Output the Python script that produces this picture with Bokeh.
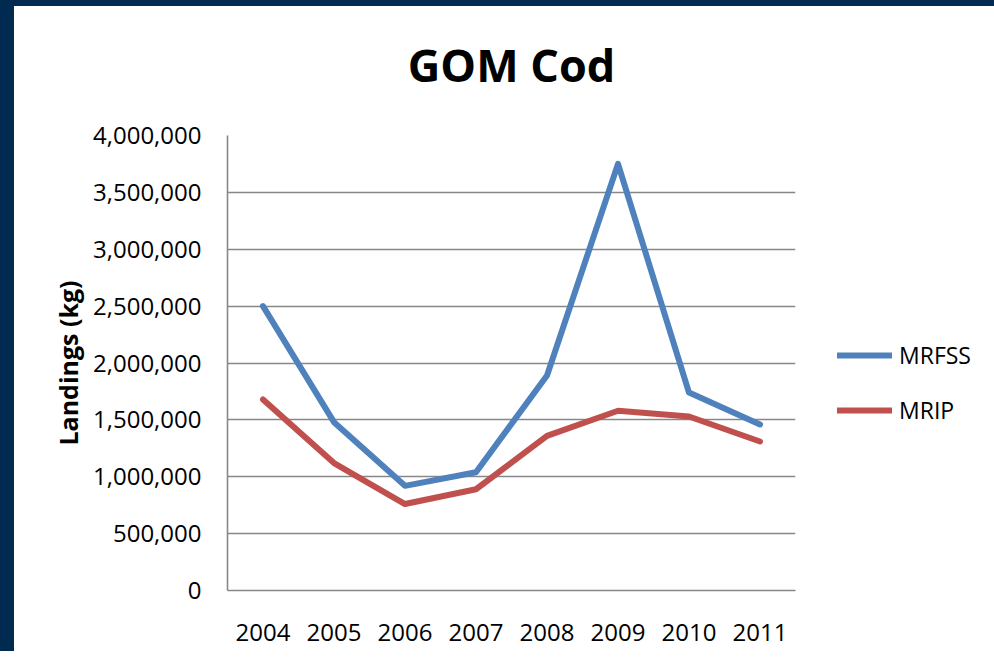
from bokeh.plotting import figure
from bokeh.models import FactorRange, NumeralTickFormatter, Legend, LegendItem, Range1d, Title
from bokeh.embed import file_html
from bokeh.resources import INLINE

years = ["2004", "2005", "2006", "2007", "2008", "2009", "2010", "2011"]
mrfss = [2500000, 1480000, 920000, 1040000, 1890000, 3750000, 1740000, 1460000]
mrip = [1680000, 1120000, 760000, 890000, 1360000, 1580000, 1530000, 1310000]
y_ticks = [0, 500000, 1000000, 1500000, 2000000, 2500000, 3000000, 3500000, 4000000]

FONT = "Open Sans"
GRID = "#878787"

p = figure(frame_width=568, frame_height=455, x_range=FactorRange(*years, range_padding=0),
           y_range=Range1d(0, 4000000), output_backend="svg", toolbar_location=None,
           min_border_left=213, min_border_right=189, min_border_top=129, min_border_bottom=61,
           title=None)
p.outline_line_color = None
p.background_fill_color = "white"
p.border_fill_color = "white"

spacer = Title(text=" ", text_font_size="1px", standoff=38)
p.add_layout(spacer, "above")
main_title = Title(text="GOM Cod", text_font=FONT, text_font_size="45px", text_font_style="bold",
                   align="center", text_color="black", standoff=0)
p.add_layout(main_title, "above")

p.xgrid.grid_line_color = None
p.ygrid.grid_line_color = GRID
p.ygrid.grid_line_width = 1.6

p.yaxis.ticker = y_ticks
p.yaxis.formatter = NumeralTickFormatter(format="0,0")
for ax in (p.xaxis, p.yaxis):
    ax.axis_line_color = GRID
    ax.axis_line_width = 1.6
    ax.major_tick_line_color = None
    ax.minor_tick_line_color = None
    ax.major_tick_out = 0
    ax.major_tick_in = 0
    ax.major_label_text_font = FONT
    ax.major_label_text_font_size = "24px"
    ax.major_label_text_color = "black"
p.yaxis.major_label_standoff = 26
p.xaxis.major_label_standoff = 33
p.yaxis.axis_label = "Landings (kg)"
p.yaxis.axis_label_text_font = FONT
p.yaxis.axis_label_text_font_size = "25px"
p.yaxis.axis_label_text_font_style = "bold"
p.yaxis.axis_label_text_color = "black"
p.yaxis.axis_label_standoff = 5

r1 = p.line(years, mrfss, line_color="#4F81BD", line_width=6, line_cap="round", line_join="round")
r2 = p.line(years, mrip, line_color="#C0504D", line_width=6, line_cap="round", line_join="round")

legend = Legend(items=[LegendItem(label="MRFSS", renderers=[r1]), LegendItem(label="MRIP", renderers=[r2])],
                location=(42, 164), orientation="vertical")
legend.border_line_color = None
legend.background_fill_alpha = 0
legend.padding = 0
legend.margin = 0
legend.glyph_width = 55
legend.glyph_height = 20
legend.label_height = 20
legend.spacing = 23
legend.label_standoff = 7
legend.label_text_font = FONT
legend.label_text_font_size = "23px"
legend.label_text_color = "black"
p.add_layout(legend, "right")

p.styles = {"border-left": "14px solid #002A50", "border-top": "6px solid #002A50"}

open("out.html", "w").write(file_html(p, INLINE))
